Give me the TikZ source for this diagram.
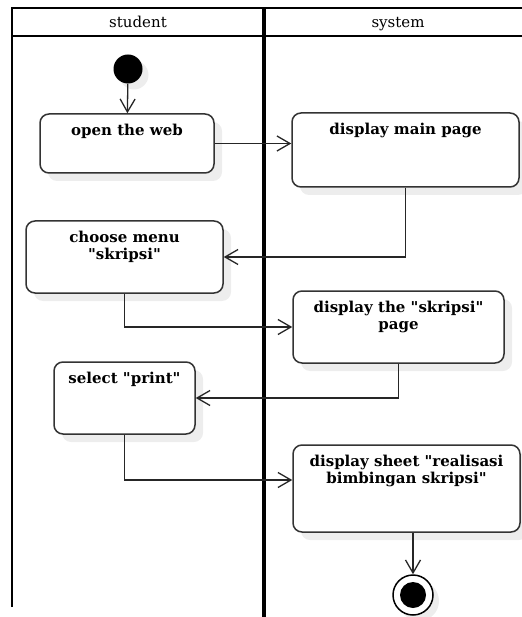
\documentclass[tikz,border=0pt]{standalone}
\usepackage{fontspec}
\setmainfont{DejaVu Serif}
\usetikzlibrary{
  arrows.meta,
  shadows
}
\tikzset{
  lanebar/.style={line width=2.5pt, black},
  lanemid/.style={line width=4pt, black},
  lanehead/.style={font=\fontsize{15}{18}\selectfont, inner sep=0pt, anchor=base},
  action/.style={
    draw=black!80, line width=1.5pt, rounded corners=9pt, fill=white,
    drop shadow={shadow xshift=8pt, shadow yshift=-8pt, fill=black!7, opacity=1}
  },
  acttext/.style={font=\bfseries\fontsize{15}{17}\selectfont, align=center, anchor=north, yshift=-7pt},
  initial/.style={
    circle, fill=black, minimum size=29pt, inner sep=0pt,
    drop shadow={shadow xshift=6pt, shadow yshift=-6pt, fill=black!7, opacity=1}
  },
  final/.style={
    circle, draw=black, line width=1.5pt, fill=white, minimum size=40pt, inner sep=0pt,
    drop shadow={shadow xshift=6pt, shadow yshift=-6pt, fill=black!7, opacity=1},
    path picture={\fill[black] (path picture bounding box.center) circle (13pt);}
  },
  flow/.style={-{Straight Barb[length=13pt, width=15pt]}, line width=1.3pt, black!85}
}
\newcommand{\qt}{\textquotedbl}

\begin{document}
\begin{tikzpicture}[x=1pt, y=-1pt]
  \useasboundingbox (0,0) rectangle (521,617);
  \draw[lanebar] (12,607) -- (12,8) -- (530,8);
  \draw[lanebar] (12,36) -- (530,36);
  \draw[lanemid] (264,8) -- (264,617);
  \node[lanehead] (student) at (138,28) {student};
  \node[lanehead] (system) at (398,28) {system};

  \node[initial] (init) at (128,69) {};
  \node[action, minimum width=174pt, minimum height=59pt, label={[acttext]north:open the web}] (openweb) at (127,143.5) {};
  \node[action, minimum width=227pt, minimum height=74pt, label={[acttext]north:display main page}] (mainpage) at (405.5,150) {};
  \node[action, minimum width=197pt, minimum height=72pt, label={[acttext]north:choose menu\\\qt skripsi\qt}] (menu) at (124.5,257) {};
  \node[action, minimum width=211pt, minimum height=72pt, label={[acttext]north:display the \qt skripsi\qt\\page}] (skripsi) at (398.5,327) {};
  \node[action, minimum width=141pt, minimum height=72pt, label={[acttext]north:select \qt print\qt}] (print) at (124.5,398) {};
  \node[action, minimum width=227pt, minimum height=87pt, label={[acttext]north:display sheet \qt realisasi\\bimbingan skripsi\qt}] (sheet) at (406.5,488.5) {};
  \node[final] (done) at (413,595) {};

  \draw[flow] (init) -- (openweb);
  \draw[flow] (openweb.east) -- (openweb.east -| mainpage.west);
  \draw[flow] (mainpage.south) |- (menu.east);
  \draw[flow] (menu.south) |- (skripsi.west);
  \draw[flow] (skripsi.south) |- (print.east);
  \draw[flow] (print.south) |- ([yshift=8.5pt]sheet.west);
  \draw[flow] (sheet.south -| done) -- (done);
\end{tikzpicture}
\end{document}
